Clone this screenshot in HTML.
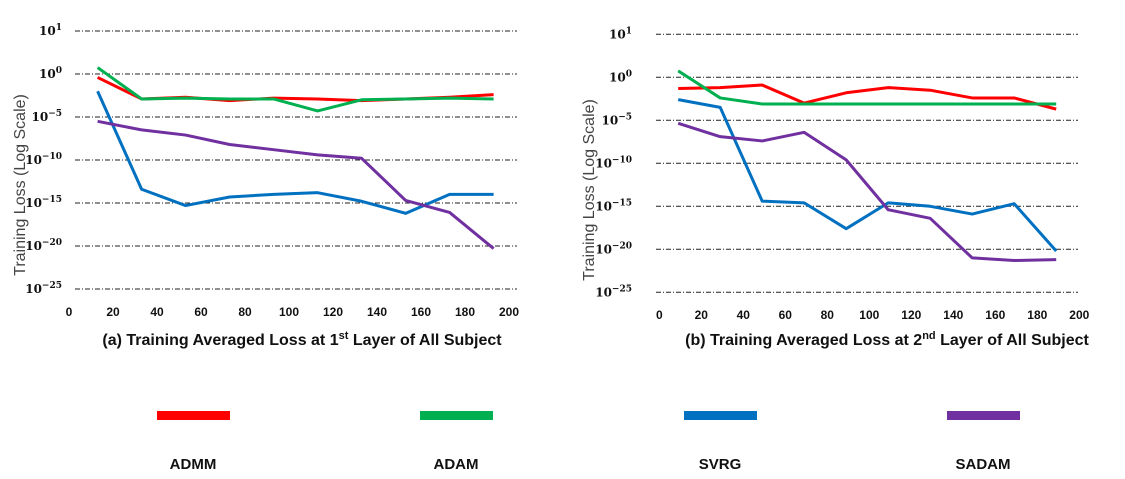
<!DOCTYPE html>
<html><head><meta charset="utf-8"><style>
html,body{margin:0;padding:0;background:#fff;}
svg{display:block;font-family:"Liberation Sans",sans-serif;}
</style></head><body>
<svg id="svg" width="1125" height="479" viewBox="0 0 1125 479"></svg>
<script>
const NS="http://www.w3.org/2000/svg";
const svg=document.getElementById('svg');
const seriesNames=["ADMM","ADAM","SVRG","SADAM"];
const seriesColors=["#ff0000","#00b050","#0070c0","#7030a0"];
const yTickExp=[1,0,-5,-10,-15,-20,-25];
const xTicks=[0,20,40,60,80,100,120,140,160,180,200];
// chart a data (log10 values)
const xA=[13,33,53,73,93,113,133,153,173,193];
const admmA=[-0.4,-2.9,-2.7,-3.1,-2.8,-2.9,-3.1,-2.9,-2.7,-2.4];
const adamA=[0.15,-2.9,-2.8,-2.9,-2.9,-4.3,-3.0,-2.9,-2.8,-2.9];
const svrgA=[-2.0,-13.4,-15.3,-14.3,-14.0,-13.8,-14.8,-16.2,-14.0,-14.0];
const sadamA=[-5.5,-6.5,-7.1,-8.2,-8.8,-9.4,-9.8,-14.7,-16.1,-20.3];
// chart b data
const xB=[9,29,49,69,89,109,129,149,169,189];
const admmB=[-1.3,-1.2,-0.9,-3.0,-1.8,-1.2,-1.5,-2.4,-2.4,-3.7];
const adamB=[0.15,-2.4,-3.1,-3.1,-3.1,-3.1,-3.1,-3.1,-3.1,-3.1];
const svrgB=[-2.6,-3.5,-14.4,-14.6,-17.6,-14.6,-15.0,-15.9,-14.7,-20.2];
const sadamB=[-5.35,-6.9,-7.4,-6.4,-9.6,-15.4,-16.4,-21.0,-21.3,-21.2];

function el(tag,attrs,parent){const e=document.createElementNS(NS,tag);for(const k in attrs)e.setAttribute(k,attrs[k]);(parent||svg).appendChild(e);return e;}

function drawChart(cfg){
  const g=el('g',{});
  
  
  const xs=v=>cfg.x0+v*cfg.xk;
  const ys=e=>e>0?cfg.y0-e*cfg.step:cfg.y0+(-e)/5*cfg.step;
  yTickExp.forEach(e=>{
    const y=ys(e);
    const l=el('line',{x1:cfg.gx1,x2:cfg.gx2,y1:y,y2:y,stroke:'#222','stroke-width':1,'stroke-dasharray':'5,2,1,2'},g);
    
    
    const t=el('text',{x:cfg.lx,y:y+4,'text-anchor':'end','font-family':'"DejaVu Serif",serif','font-size':12,'font-weight':'bold',fill:'#111'},g);
    
    
    t.textContent='10';
    const s=el('tspan',{dy:-5,'font-size':9},t);
    s.textContent=e===1?'1':(e===0?'0':'\u2212'+(-e));
  });
  xTicks.forEach(v=>{
    const t=el('text',{x:xs(v),y:cfg.xly,'text-anchor':'middle','font-size':12,'font-weight':'bold',fill:'#111'},g);
    
    
    t.textContent=v;
  });
  const yt=el('text',{x:0,y:0,transform:`translate(${cfg.ytx},${cfg.yty}) rotate(-90)`,'text-anchor':'middle','font-size':16,fill:'#444'},g);
  
  
  yt.textContent='Training Loss (Log Scale)';
  cfg.series.forEach((d,i)=>{
    const p=el('polyline',{points:cfg.xv.map((x,j)=>xs(x)+','+ys(d[j])).join(' '),fill:'none',stroke:seriesColors[i],'stroke-width':3,'stroke-linejoin':'round'},g);
    
    
  });
  const tt=el('text',{x:cfg.tx,y:345,'text-anchor':'middle','font-size':16,'font-weight':'bold',fill:'#111'},g);
  
  
  tt.innerHTML=cfg.title;
}
drawChart({name:'chart-a',x0:69,xk:2.2,y0:74,step:43,gx1:75,gx2:517,lx:62,xly:316,ytx:25,yty:185,tx:302,xv:xA,
  series:[admmA,adamA,svrgA,sadamA],
  title:'(a)  Training Averaged Loss at 1<tspan dy="-6" font-size="11">st</tspan><tspan dy="6"> Layer of All  Subject</tspan>'});
drawChart({name:'chart-b',x0:659.3,xk:2.1,y0:77.3,step:43,gx1:656,gx2:1078,lx:632,xly:319,ytx:594,yty:190,tx:887,xv:xB,
  series:[admmB,adamB,svrgB,sadamB],
  title:'(b)  Training Averaged Loss at 2<tspan dy="-6" font-size="11">nd</tspan><tspan dy="6"> Layer of All  Subject</tspan>'});
const legX=[157,420,684,947];
seriesNames.forEach((n,i)=>{
  const r=el('rect',{x:legX[i],y:411,width:73,height:9,fill:seriesColors[i]});
  
  
  const t=el('text',{x:legX[i]+36,y:469,'text-anchor':'middle','font-size':15,'font-weight':'bold',fill:'#111'});
  
  
  t.textContent=n;
});
</script>
</body></html>
